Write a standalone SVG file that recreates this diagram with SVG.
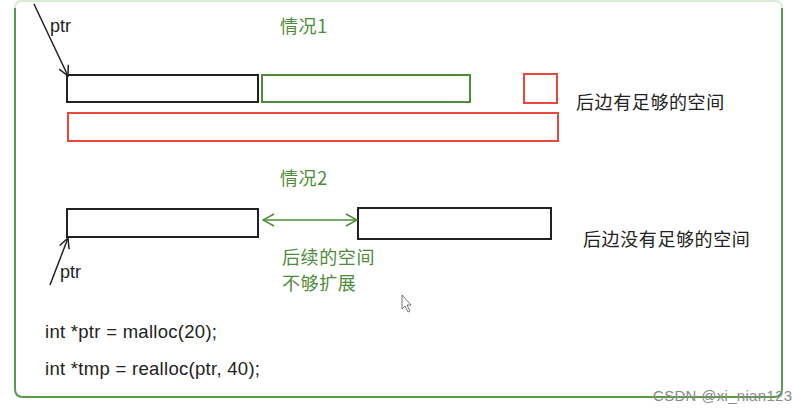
<svg xmlns="http://www.w3.org/2000/svg" width="807" height="412" viewBox="0 0 807 412">
<style>
.cjk{font-family:"Noto Sans CJK SC","Liberation Sans",sans-serif;font-size:18px;letter-spacing:0.6px}
.lat{font-family:"Liberation Sans",Arial,sans-serif}
.g{fill:#4e8c3a}
.k{fill:#222}
.blk{fill:#fff;stroke:#222;stroke-width:2}
.grn{fill:#fff;stroke:#4e8c3a;stroke-width:2}
.red{fill:#fff;stroke:#e8473a;stroke-width:2}
</style>
<defs>
<marker id="ak" viewBox="0 0 12 12" refX="11" refY="6" markerWidth="12" markerHeight="12" markerUnits="userSpaceOnUse" orient="auto-start-reverse">
<path d="M1,1 L11,6 L1,11" fill="none" stroke="#222" stroke-width="1.5"/>
</marker>
<marker id="ag" viewBox="0 0 14 14" refX="13" refY="7" markerWidth="14" markerHeight="14" markerUnits="userSpaceOnUse" orient="auto-start-reverse">
<path d="M2,1 L13,7 L2,13" fill="none" stroke="#4e8c3a" stroke-width="1.5"/>
</marker>
</defs>
<rect width="807" height="412" fill="#fff"/>
<g id="frame">
<path d="M15,8 Q15,1 22,1 L775,1 Q782,1 782,8" fill="none" stroke="#dcebd6" stroke-width="2"/>
<path d="M15,8 L15,389 Q15,397 23,397 L774,397 Q782,397 782,389 L782,8" fill="none" stroke="#5b9c48" stroke-width="2"/>
</g>
<g id="case1">
<text class="cjk g" x="280" y="33">情况1</text>
<g id="c1-block"><rect class="blk" x="67" y="75" width="191" height="27"/></g>
<g id="c1-extend"><rect class="grn" x="262" y="75" width="208" height="27"/></g>
<g id="c1-small-red"><rect class="red" x="524" y="74" width="33" height="29"/></g>
<g id="c1-long-red"><rect class="red" x="68" y="113" width="490" height="28"/></g>
<text class="cjk k" x="576" y="109">后边有足够的空间</text>
<text class="lat k" x="50" y="32" font-size="18">ptr</text>
</g>
<g id="case2">
<text class="cjk g" x="280" y="185">情况2</text>
<g id="c2-block"><rect class="blk" x="67" y="209" width="191" height="28"/></g>
<g id="c2-other"><rect class="blk" x="358" y="208" width="193" height="31"/></g>
<text class="cjk g" x="282" y="264">后续的空间</text>
<text class="cjk g" x="282" y="290">不够扩展</text>
<text class="cjk k" x="583" y="246">后边没有足够的空间</text>
<text class="lat k" x="60" y="278" font-size="18">ptr</text>
</g>
<g id="connectors">
<line x1="34" y1="4" x2="68" y2="76" stroke="#222" stroke-width="1.5" marker-end="url(#ak)"/>
<line x1="50" y1="285" x2="68" y2="238" stroke="#222" stroke-width="1.5" marker-end="url(#ak)"/>
<line x1="263" y1="220" x2="357" y2="220" stroke="#4e8c3a" stroke-width="1.5" marker-start="url(#ag)" marker-end="url(#ag)"/>
</g>
<g id="code">
<text class="lat k" x="45" y="338" font-size="18.5" textLength="172" lengthAdjust="spacing">int *ptr = malloc(20);</text>
<text class="lat k" x="45" y="375" font-size="18.5" textLength="215" lengthAdjust="spacing">int *tmp = realloc(ptr, 40);</text>
</g>
<path d="M402,295 L402,309 L405,306 L408,312 L410,311 L407,305 L411,305 Z" fill="#fff" stroke="#555" stroke-width="0.8"/>
<text class="lat" x="653" y="401" font-size="15" fill="#8a8a8a" textLength="139" lengthAdjust="spacing">CSDN @xi_nian123</text>
</svg>
